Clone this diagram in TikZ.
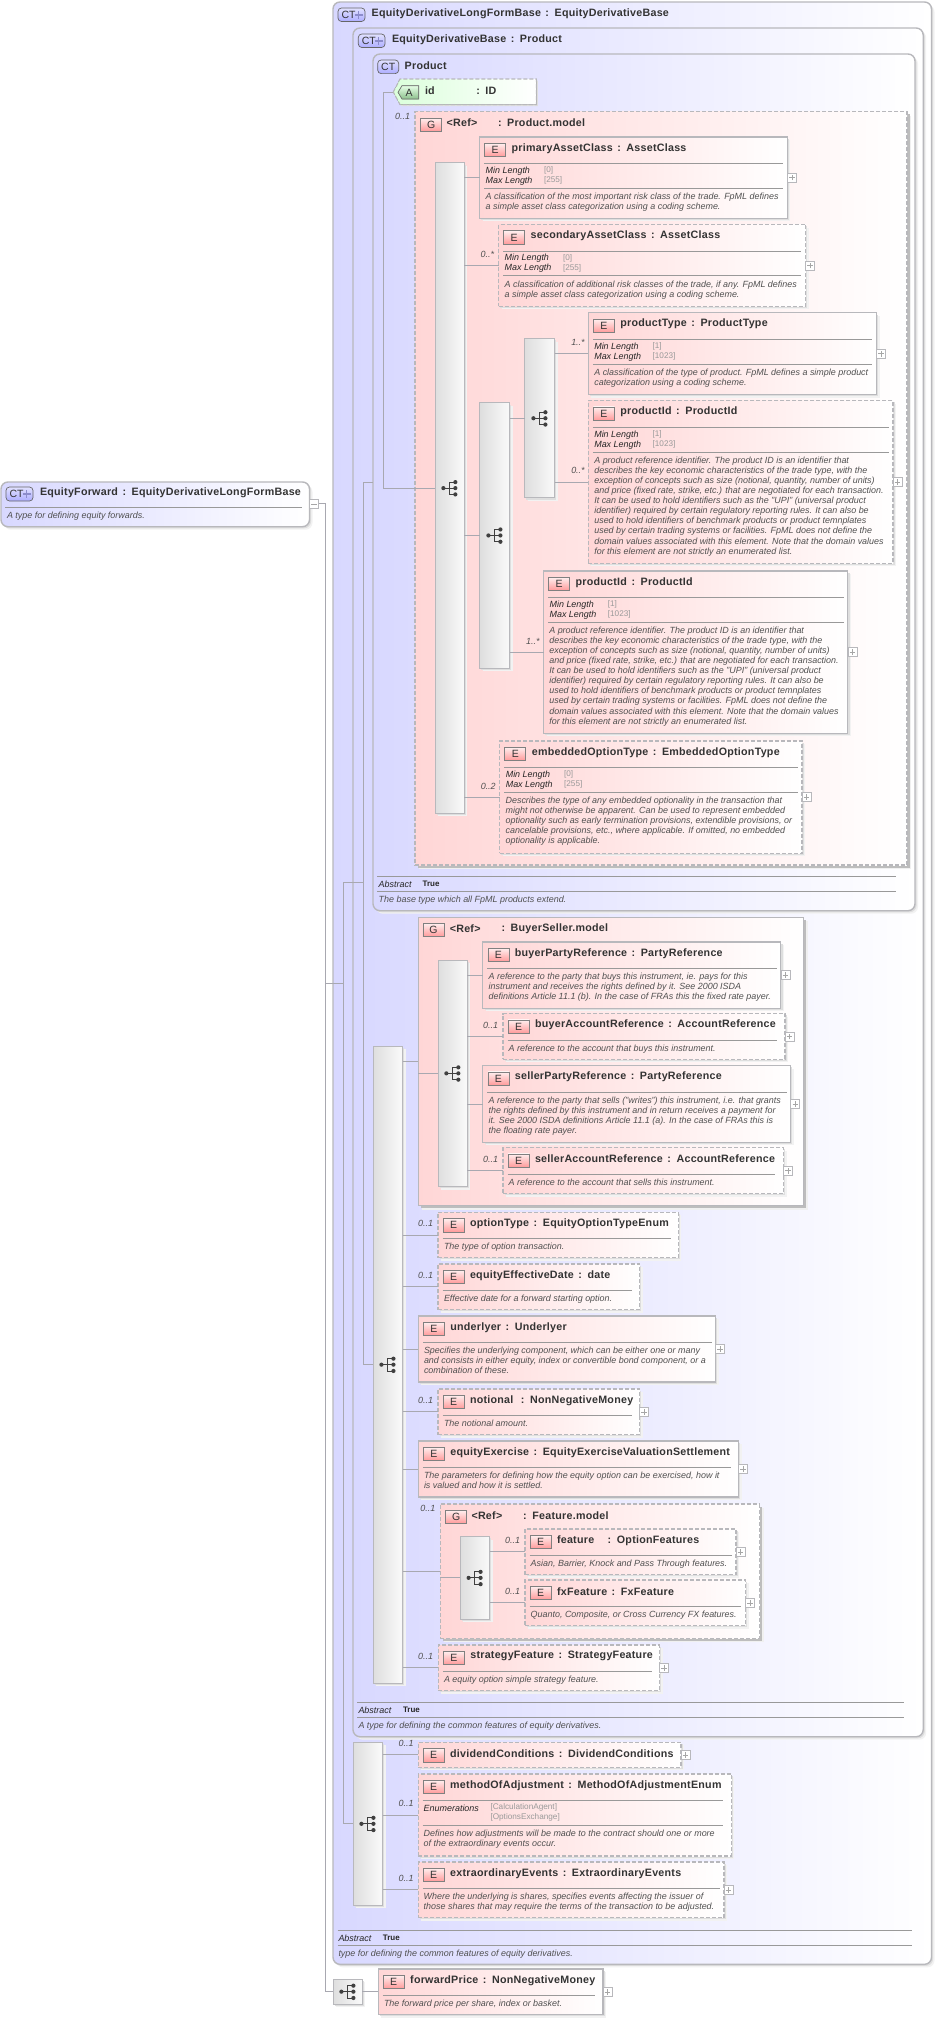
\documentclass[tikz,border=0pt]{standalone}
\usepackage{fontspec}
\setmainfont{Liberation Sans}
\newfontfamily\ttlfont[LetterSpace=2.4,WordSpace=1.4]{Liberation Sans}
\usetikzlibrary{shadows}
\definecolor{bluel}{HTML}{D8D8FF}
\definecolor{pinkl}{HTML}{FFD6D6}
\definecolor{edgec}{HTML}{B8B8BC}
\definecolor{linec}{HTML}{A8A8B0}
\definecolor{txtc}{HTML}{333333}
\definecolor{descc}{HTML}{505050}
\definecolor{valc}{HTML}{9A9A9A}
\tikzset{
  softshadow/.style={general shadow={shadow xshift=3pt,shadow yshift=-3pt,fill=black!5,draw=none},
                     general shadow={shadow xshift=1.6pt,shadow yshift=-1.6pt,fill=black!13,draw=none}},
  groupshadow/.style={general shadow={shadow xshift=4pt,shadow yshift=-4pt,fill=black!6,draw=none},
                     general shadow={shadow xshift=2.6pt,shadow yshift=-2.6pt,fill=black!26,draw=none}},
  gbox/.style={inner sep=0pt,outer sep=0pt},
  ctbox/.style={gbox,draw=edgec,line width=1.4pt,rounded corners=7pt,left color=bluel,right color=white,softshadow},
  solidbox/.style={gbox,draw=edgec,line width=1.1pt,left color=pinkl,right color=white,softshadow},
  dashbox/.style={gbox,draw=edgec,line width=1.1pt,dash pattern=on 4pt off 2pt,left color=pinkl,right color=white,softshadow},
  solidgroup/.style={gbox,draw=edgec,line width=1.1pt,left color=pinkl,right color=white,groupshadow},
  dashgroup/.style={gbox,draw=edgec,line width=1.1pt,dash pattern=on 4pt off 2pt,left color=pinkl,right color=white,groupshadow},
  seqbar/.style={gbox,draw=edgec,line width=1pt,left color=black!13,right color=black!2,softshadow},
  badgeE/.style={gbox,draw=black!50,line width=.7pt,top color=pinkl!40,bottom color=red!40,text=txtc,font=\fontsize{10.5}{11}\selectfont},
  badgeCT/.style={gbox,draw=black!60,line width=.7pt,rounded corners=3.5pt,top color=blue!12,bottom color=blue!32,text=txtc,font=\fontsize{10.5}{11}\selectfont},
  ttl/.style={gbox,anchor=west,text=txtc,font=\ttlfont\bfseries\fontsize{10.7}{12}\selectfont},
  dsc/.style={gbox,anchor=north west,align=left,text=descc,font=\itshape\fontsize{8.95}{10.1}\selectfont},
  fac/.style={gbox,anchor=west,text=black!85,font=\itshape\fontsize{8.95}{10}\selectfont},
  val/.style={gbox,anchor=west,text=valc,font=\fontsize{8.2}{10}\selectfont},
  occl/.style={gbox,anchor=east,text=descc,font=\itshape\fontsize{8.95}{10}\selectfont},
  tru/.style={gbox,anchor=west,text=black!85,font=\bfseries\fontsize{8}{10}\selectfont},
  seps/.style={draw=black!40,line width=.8pt},
  conn/.style={draw=linec,line width=.8pt},
  plusb/.style={gbox,draw=edgec,line width=.7pt,fill=white,minimum width=9pt,minimum height=9pt,anchor=west}
}
\newcommand\bx[6]{\node[#6,minimum width={#4-#2},minimum height={#5-#3}] (#1) at ({(#2+#4)/2},{(#3+#5)/2}) {};}
% element: name x1 y1 x2 y2 style title
\newcommand\elembase[7]{\bx{#1}{#2}{#3}{#4}{#5}{#6}
  \node[badgeE,minimum width=21pt,minimum height=13.4pt] (#1-b) at ({#2+15.5},{#3+12.9}) {E};
  \node[ttl] (#1-t) at ({#2+32},{#3+11.3}) {#7};}
% adds separator, right inset #8
\newcommand\elem[8]{\elembase{#1}{#2}{#3}{#4}{#5}{#6}{#7}
  \draw[seps] ({#2+4.5},{#3+26.5}) -- ({#4-#8},{#3+26.5});}
\newcommand\hsep[3]{\draw[seps] (#1,#3) -- (#2,#3);}
\newcommand\facets[6]{% name x y min max inset
  \node[fac] (#1-min) at ({#2+6},{#3+34}) {Min Length};
  \node[fac] (#1-max) at ({#2+6},{#3+44}) {Max Length};
  \node[val] (#1-minv) at ({#2+64.3},{#3+33.5}) {[#4]};
  \node[val] (#1-maxv) at ({#2+64.3},{#3+43.5}) {[#5]};
  \draw[seps] ({#2+4.5},{#3+51.2}) -- (#6,{#3+51.2});}
\newcommand\desc[4]{\node[dsc] (#1-d) at (#2,{#3-3.2}) {\rule{0pt}{6.2pt}#4};}
\newcommand\occ[4]{\node[occl] (#1-o) at (#2,#3) {#4};}
\newcommand\plusbox[1]{\node[plusb] (#1-p) at (#1.east) {};
  \draw[line width=.6pt,draw=black!35] ([xshift=-2.8pt]#1-p.center) -- ([xshift=2.8pt]#1-p.center)
    ([yshift=-2.8pt]#1-p.center) -- ([yshift=2.8pt]#1-p.center);}
\newcommand\conn[2]{\draw[conn] (#1.east |- #2.west) -- (#2.west);}
\newcommand\seqicon[1]{\begin{scope}[shift={(#1.center)}]
  \draw[line width=.9pt,draw=black!75] (-6.3,0) -- (5.7,0) (5.7,-6) -- (0,-6) -- (0,6.3) -- (5.7,6.3);
  \fill[black!75] (-6.3,0) circle (2.1pt) (5.7,-6) circle (2.1pt) (5.7,0) circle (2.1pt) (5.7,6.3) circle (2.1pt);
\end{scope}}
\newcommand\ctbadge[6]{% name x1 y1 x2 y2 plus?
  \node[badgeCT,minimum width={#4-#2},minimum height={#5-#3}] (#1) at ({(#2+#4)/2},{(#3+#5)/2}) {};
  \node[gbox,text=txtc,font=\fontsize{10.5}{11}\selectfont,anchor=west] (#1-l) at ({#2+3.5},{(#3+#5)/2}) {CT};
  #6}
\newcommand\ctplus[2]{\draw[line width=1.7pt,draw=black!45!blue!45] ({#1-4},#2) -- ({#1+4},#2) (#1,{#2-4}) -- (#1,{#2+4});}
\begin{document}
\begin{tikzpicture}[x=1pt,y=-1pt]
\useasboundingbox (0,0) rectangle (936,2019);
\fill[white] (0,0) rectangle (936,2019);

% root
\bx{root}{1}{482}{309.5}{526.7}{ctbox}
\ctbadge{rootb}{6}{487}{33}{501}{\ctplus{26.5}{494}}
\node[ttl] (root-t) at (40,492.7) {EquityForward : EquityDerivativeLongFormBase};
\hsep{5}{302}{507.3}
\node[dsc] (root-d) at (7,511.8) {\rule{0pt}{6.2pt}A type for defining equity forwards.};
\node[plusb,minimum height=9.5pt] (root-p) at (root.east |- 0,503.8) {};
\draw[line width=.6pt,draw=black!35] ([xshift=-2.8pt]root-p.center) -- ([xshift=2.8pt]root-p.center);

% outer
\bx{outer}{333}{2}{931.5}{1964.3}{ctbox}
\ctbadge{outerb}{338}{8}{365}{21.5}{\ctplus{358.5}{15}}
\node[ttl] (outer-t) at (371.7,13.6) {EquityDerivativeLongFormBase : EquityDerivativeBase};
\hsep{337.7}{912}{1930}
\node[fac] (outer-ab) at (338.5,1938) {Abstract};
\node[tru] (outer-tr) at (382.9,1937.5) {True};
\hsep{337.7}{912}{1945.3}
\node[dsc] (outer-d) at (338.5,1950.1) {\rule{0pt}{6.2pt}type for defining the common features of equity derivatives.};

% second
\bx{second}{353}{28}{923.2}{1736.7}{ctbox}
\ctbadge{secondb}{358.3}{34}{385}{47.5}{\ctplus{378.5}{41}}
\node[ttl] (second-t) at (392,39.3) {EquityDerivativeBase : Product};
\hsep{357.3}{904.3}{1702.3}
\node[fac] (second-ab) at (358.5,1710) {Abstract};
\node[tru] (second-tr) at (403,1709.5) {True};
\hsep{357.3}{904.3}{1717.3}
\node[dsc] (second-d) at (358.5,1721.8) {\rule{0pt}{6.2pt}A type for defining the common features of equity derivatives.};

% product
\bx{product}{373}{54}{915}{910.7}{ctbox}
\ctbadge{productb}{377.7}{60}{398.7}{73.6}{}
\node[ttl] (product-t) at (404.7,65.4) {Product};
\hsep{377.3}{896.4}{876.3}
\node[fac] (product-ab) at (378.7,883.8) {Abstract};
\node[tru] (product-tr) at (422.6,883.3) {True};
\hsep{377.3}{896.4}{891.3}
\node[dsc] (product-d) at (378.7,895.8) {\rule{0pt}{6.2pt}The base type which all FpML products extend.};

% attribute id
\filldraw[draw=edgec,line width=1.1pt,dash pattern=on 4pt off 2pt,left color=green!14,right color=white,general shadow={shadow xshift=1.6pt,shadow yshift=-1.6pt,fill=black!13,draw=none}]
  (393.3,92) -- (400,79) -- (536.3,79) -- (536.3,104.6) -- (400,104.6) -- cycle;
\coordinate (idtip) at (393.3,92);
\filldraw[draw=black!55,line width=.7pt,top color=green!10,bottom color=green!45!black!45] (398,92.3) -- (402,85.7) -- (418.7,85.7) -- (418.7,99) -- (402,99) -- cycle;
\node[gbox,text=txtc,font=\fontsize{10.5}{11}\selectfont] (id-b) at (409,92.5) {A};
\node[ttl] (id-t) at (425,90.4) {id};
\node[ttl] (id-ty) at (476.3,90.4) {: ID};

% Product.model
\bx{pm}{415}{111.8}{907}{865}{dashgroup}
\occ{pm}{410}{116}{0..1}
\node[badgeE,minimum width=21pt,minimum height=13.4pt] (pm-b) at (431.2,124.7) {G};
\node[ttl] (pm-r) at (446.7,123) {<Ref>};
\node[ttl] (pm-t) at (498,123) {: Product.model};
\bx{bar1}{435}{162.9}{464.3}{813.3}{seqbar}
\seqicon{bar1}

\elem{pac}{479.7}{137}{787.3}{218.2}{solidbox}{primaryAssetClass : AssetClass}{4}
\facets{pac}{479.7}{137}{0}{255}{783.3}
\desc{pac}{485.7}{196}{A classification of the most important risk class of the trade. FpML defines\\a simple asset class categorization using a coding scheme.}
\plusbox{pac}

\elem{sac}{498.7}{224.6}{805.7}{306.4}{dashbox}{secondaryAssetClass : AssetClass}{4.4}
\facets{sac}{498.7}{224.6}{0}{255}{801.3}
\desc{sac}{504.7}{284}{A classification of additional risk classes of the trade, if any. FpML defines\\a simple asset class categorization using a coding scheme.}
\occ{sac}{494}{254.6}{0..*}
\plusbox{sac}

\bx{bar2}{479.7}{402.9}{509.7}{668}{seqbar}
\seqicon{bar2}
\bx{bar3}{524.7}{338.6}{554.7}{497.9}{seqbar}
\seqicon{bar3}

\elem{pt}{588.3}{312.9}{876.7}{394.6}{solidbox}{productType : ProductType}{4.4}
\facets{pt}{588.3}{312.9}{1}{1023}{872.3}
\desc{pt}{594.3}{372.1}{A classification of the type of product. FpML defines a simple product\\categorization using a coding scheme.}
\occ{pt}{584.7}{342.9}{1..*}
\plusbox{pt}

\elem{pia}{588.3}{400.7}{893}{563.3}{dashbox}{productId : ProductId}{4.4}
\facets{pia}{588.3}{400.7}{1}{1023}{888.6}
\desc{pia}{594.3}{460}{A product reference identifier. The product ID is an identifier that\\describes the key economic characteristics of the trade type, with the\\exception of concepts such as size (notional, quantity, number of units)\\and price (fixed rate, strike, etc.) that are negotiated for each transaction.\\It can be used to hold identifiers such as the "UPI" (universal product\\identifier) required by certain regulatory reporting rules. It can also be\\used to hold identifiers of benchmark products or product temnplates\\used by certain trading systems or facilities. FpML does not define the\\domain values associated with this element. Note that the domain values\\for this element are not strictly an enumerated list.}
\occ{pia}{584.7}{470.7}{0..*}
\plusbox{pia}

\elem{pib}{543.6}{571}{847.9}{733.3}{solidbox}{productId : ProductId}{4.4}
\facets{pib}{543.6}{571}{1}{1023}{843.5}
\desc{pib}{549.3}{630}{A product reference identifier. The product ID is an identifier that\\describes the key economic characteristics of the trade type, with the\\exception of concepts such as size (notional, quantity, number of units)\\and price (fixed rate, strike, etc.) that are negotiated for each transaction.\\It can be used to hold identifiers such as the "UPI" (universal product\\identifier) required by certain regulatory reporting rules. It can also be\\used to hold identifiers of benchmark products or product temnplates\\used by certain trading systems or facilities. FpML does not define the\\domain values associated with this element. Note that the domain values\\for this element are not strictly an enumerated list.}
\occ{pib}{539.5}{641}{1..*}
\plusbox{pib}

\elem{eot}{499.8}{741}{802}{853.3}{dashbox}{embeddedOptionType : EmbeddedOptionType}{4}
\facets{eot}{499.8}{741}{0}{255}{798}
\desc{eot}{505.6}{800}{Describes the type of any embedded optionality in the transaction that\\might not otherwise be apparent. Can be used to represent embedded\\optionality such as early termination provisions, extendible provisions, or\\cancelable provisions, etc., where applicable. If omitted, no embedded\\optionality is applicable.}
\occ{eot}{495.7}{786}{0..2}
\plusbox{eot}

% long bar
\bx{bar4}{373}{1046}{402.5}{1683.3}{seqbar}
\seqicon{bar4}

% BuyerSeller.model
\bx{bs}{418.3}{917.3}{803.7}{1205.7}{solidgroup}
\node[badgeE,minimum width=21pt,minimum height=13.4pt] (bs-b) at (433.4,930) {G};
\node[ttl] (bs-r) at (449.8,928.3) {<Ref>};
\node[ttl] (bs-t) at (501.5,928.3) {: BuyerSeller.model};
\bx{bar5}{438}{960}{467.3}{1186.7}{seqbar}
\seqicon{bar5}

\elem{bpr}{482.9}{942}{780.9}{1008.3}{solidbox}{buyerPartyReference : PartyReference}{4}
\desc{bpr}{488.6}{976}{A reference to the party that buys this instrument, ie. pays for this\\instrument and receives the rights defined by it. See 2000 ISDA\\definitions Article 11.1 (b). In the case of FRAs this the fixed rate payer.}
\plusbox{bpr}

\elem{bar}{503}{1013.7}{785}{1059.3}{dashbox}{buyerAccountReference : AccountReference}{8}
\desc{bar}{508.7}{1048}{A reference to the account that buys this instrument.}
\occ{bar}{498}{1025.7}{0..1}
\plusbox{bar}

\elem{spr}{482.9}{1065.7}{790.8}{1142.3}{solidbox}{sellerPartyReference : PartyReference}{4}
\desc{spr}{488.6}{1100}{A reference to the party that sells ("writes") this instrument, i.e. that grants\\the rights defined by this instrument and in return receives a payment for\\it. See 2000 ISDA definitions Article 11.1 (a). In the case of FRAs this is\\the floating rate payer.}
\plusbox{spr}

\elem{sar}{503}{1147.7}{783.6}{1193.7}{dashbox}{sellerAccountReference : AccountReference}{8.8}
\desc{sar}{508.7}{1182}{A reference to the account that sells this instrument.}
\occ{sar}{498}{1159.7}{0..1}
\plusbox{sar}

\elem{ot}{438}{1212.3}{678.3}{1257.7}{dashbox}{optionType : EquityOptionTypeEnum}{7.6}
\desc{ot}{444}{1246.3}{The type of option transaction.}
\occ{ot}{433}{1223.7}{0..1}

\elem{eed}{438}{1264}{639.5}{1309.7}{dashbox}{equityEffectiveDate : date}{7.5}
\desc{eed}{444}{1298.3}{Effective date for a forward starting option.}
\occ{eed}{433}{1275.7}{0..1}

\elem{und}{418.3}{1316}{715.5}{1382}{solidbox}{underlyer : Underlyer}{3.8}
\desc{und}{424}{1350.3}{Specifies the underlying component, which can be either one or many\\and consists in either equity, index or convertible bond component, or a\\combination of these.}
\plusbox{und}

\elem{not}{438}{1389}{639.5}{1434.7}{dashbox}{notional\hspace{3pt} : NonNegativeMoney}{7.5}
\desc{not}{444}{1423.3}{The notional amount.}
\occ{not}{433}{1400.7}{0..1}
\plusbox{not}

\elem{eqx}{418.3}{1441}{738.7}{1497}{solidbox}{equityExercise : EquityExerciseValuationSettlement}{8}
\desc{eqx}{424}{1475.3}{The parameters for defining how the equity option can be exercised, how it\\is valued and how it is settled.}
\plusbox{eqx}

% Feature.model
\bx{fm}{440.3}{1504}{759.6}{1638.3}{dashgroup}
\node[badgeE,minimum width=21pt,minimum height=13.4pt] (fm-b) at (456.2,1517) {G};
\node[ttl] (fm-r) at (471.5,1515.3) {<Ref>};
\node[ttl] (fm-t) at (523.2,1515.3) {: Feature.model};
\occ{fm}{435.4}{1508.3}{0..1}
\bx{bar6}{460}{1536.7}{489.8}{1619}{seqbar}
\seqicon{bar6}
\elem{fea}{525}{1529}{736}{1574.7}{dashbox}{feature\hspace{9pt} : OptionFeatures}{4.5}
\desc{fea}{530.7}{1563}{Asian, Barrier, Knock and Pass Through features.}
\occ{fea}{520}{1540.7}{0..1}
\plusbox{fea}
\elem{fxf}{525}{1580}{745.5}{1625.7}{dashbox}{fxFeature : FxFeature}{4.5}
\desc{fxf}{530.7}{1614}{Quanto, Composite, or Cross Currency FX features.}
\occ{fxf}{520}{1591.7}{0..1}
\plusbox{fxf}

\elem{stf}{438.3}{1645}{659.5}{1690.7}{dashbox}{strategyFeature : StrategyFeature}{7.5}
\desc{stf}{444}{1679.3}{A equity option simple strategy feature.}
\occ{stf}{433}{1656.7}{0..1}
\plusbox{stf}

% third bar
\bx{bar7}{353}{1742.3}{382.5}{1905.3}{seqbar}
\seqicon{bar7}
\elembase{dvc}{418.2}{1742.3}{681}{1767.3}{dashbox}{dividendConditions : DividendConditions}
\occ{dvc}{413.5}{1743.7}{0..1}
\plusbox{dvc}

\elem{moa}{418.2}{1774}{731.4}{1856}{dashbox}{methodOfAdjustment : MethodOfAdjustmentEnum}{8}
\node[fac] (moa-en) at (423.7,1808.3) {Enumerations};
\node[val] (moa-v1) at (490.5,1807.3) {[CalculationAgent]};
\node[val] (moa-v2) at (490.5,1817.7) {[OptionsExchange]};
\hsep{422.7}{723.4}{1825.3}
\desc{moa}{423.7}{1833.3}{Defines how adjustments will be made to the contract should one or more\\of the extraordinary events occur.}
\occ{moa}{413.5}{1803.7}{0..1}

\elem{exe}{418.2}{1862}{724}{1917.7}{dashbox}{extraordinaryEvents : ExtraordinaryEvents}{4.4}
\desc{exe}{423.7}{1896}{Where the underlying is shares, specifies events affecting the issuer of\\those shares that may require the terms of the transaction to be adjusted.}
\occ{exe}{413.5}{1878.7}{0..1}
\plusbox{exe}

% bottom
\bx{bar8}{333}{1979}{362.4}{2004.3}{seqbar}
\seqicon{bar8}
\elem{fwd}{378.2}{1969}{603}{2014.7}{solidbox}{forwardPrice : NonNegativeMoney}{8}
\desc{fwd}{384}{2003}{The forward price per share, index or basket.}
\plusbox{fwd}

% trunks
\coordinate (tr0) at (325.7,0);
\coordinate (tr1) at (343.3,0);
\coordinate (tr2) at (363.3,0);
\coordinate (tr3) at (383.3,0);
\draw[conn] (root-p.east) -- (tr0 |- root-p.east) -- (tr0 |- bar8.west) -- (bar8.west);
\draw[conn] (tr0 |- outer.west) -- (tr1 |- outer.west);
\draw[conn] (tr1 |- second.west) -- (tr1 |- bar7.west) -- (bar7.west);
\draw[conn] (tr1 |- second.west) -- (tr2 |- second.west);
\draw[conn] (tr2 |- product.west) -- (product.west);
\draw[conn] (tr2 |- product.west) -- (tr2 |- bar4.west) -- (bar4.west);
\draw[conn] (idtip) -- (tr3 |- idtip) -- (tr3 |- bar1.west) -- (bar1.west);
% connectors
\conn{bar1}{pac}\conn{bar1}{sac}\conn{bar1}{bar2}\conn{bar1}{eot}
\conn{bar2}{bar3}\conn{bar2}{pib}
\conn{bar3}{pt}\conn{bar3}{pia}
\conn{bar4}{bs}
\draw[conn] (bs.west |- bar5.west) -- (bar5.west);
\conn{bar5}{bpr}\conn{bar5}{bar}\conn{bar5}{spr}\conn{bar5}{sar}
\conn{bar4}{ot}\conn{bar4}{eed}\conn{bar4}{und}\conn{bar4}{not}\conn{bar4}{eqx}\conn{bar4}{fm}\conn{bar4}{stf}
\draw[conn] (fm.west |- bar6.west) -- (bar6.west);
\conn{bar6}{fea}\conn{bar6}{fxf}
\conn{bar7}{dvc}\conn{bar7}{moa}\conn{bar7}{exe}
\conn{bar8}{fwd}
\end{tikzpicture}
\end{document}
